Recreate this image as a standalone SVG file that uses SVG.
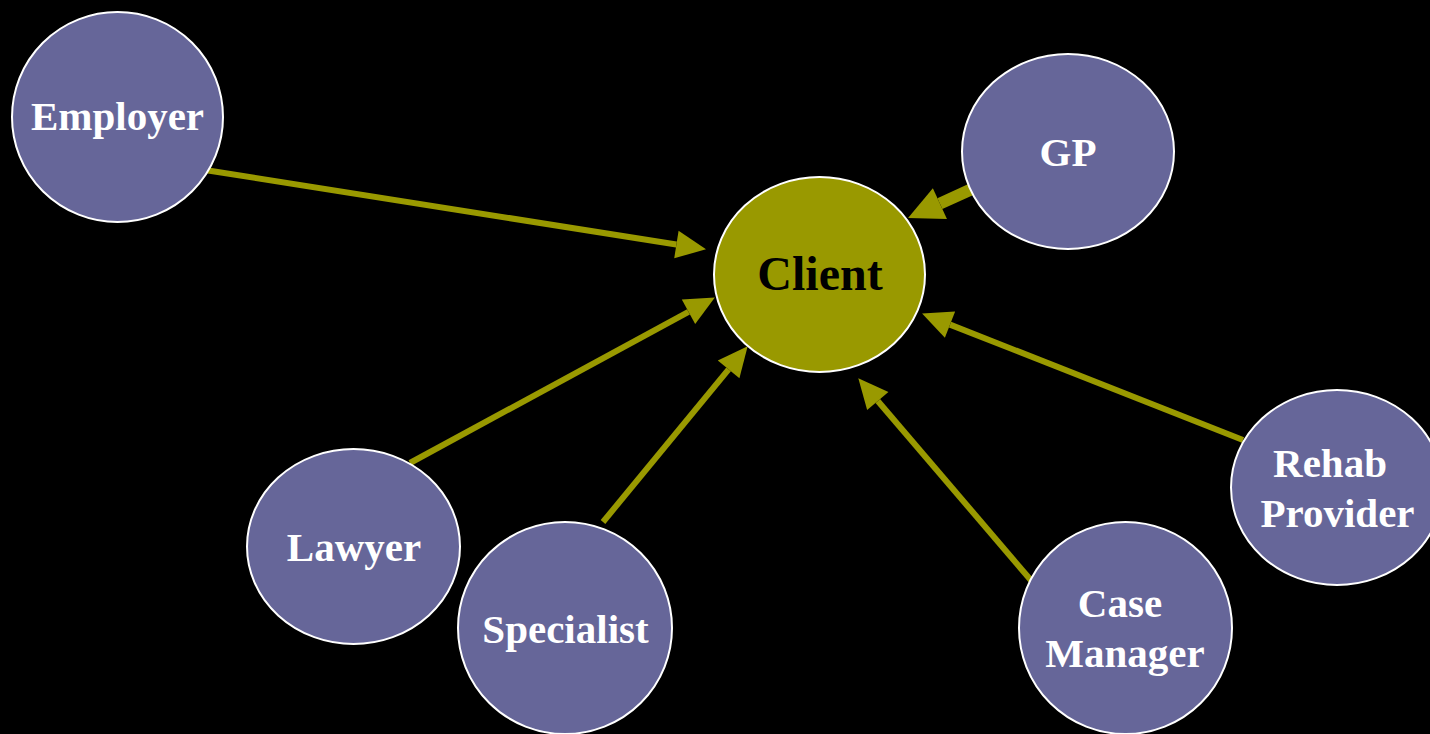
<svg xmlns="http://www.w3.org/2000/svg" width="1430" height="734" viewBox="0 0 1430 734">
<style>
.node{fill:#666699;stroke:#ffffff;stroke-width:2}
.client{fill:#999900;stroke:#ffffff;stroke-width:2}
.lbl{font-family:"Liberation Serif",serif;font-weight:bold;font-size:41px;fill:#ffffff;text-anchor:middle}
.clbl{font-family:"Liberation Serif",serif;font-weight:bold;font-size:48px;fill:#000000;text-anchor:middle}
.edge{stroke:#999900;stroke-width:6;fill:none;marker-end:url(#ah)}
.edge2{stroke:#999900;stroke-width:12;fill:none;marker-end:url(#ah2)}
</style>
<defs>
<marker id="ah" markerUnits="userSpaceOnUse" markerWidth="30" markerHeight="28" refX="0" refY="14" orient="auto" overflow="visible">
<path d="M0,0 L30,14 L0,28 z" fill="#999900"/>
</marker>
<marker id="ah2" markerUnits="userSpaceOnUse" markerWidth="35" markerHeight="34" refX="0" refY="17" orient="auto" overflow="visible">
<path d="M0,0 L35,17 L0,34 z" fill="#999900"/>
</marker>
</defs>
<rect width="1430" height="734" fill="#000000"/>
<g id="connectors">
<path class="edge" d="M205,170 L676.4,244.5"/>
<path class="edge" d="M410,463 L688.5,311.8"/>
<path class="edge" d="M603,522 L728.6,369.4"/>
<path class="edge" d="M1035,585 L877.8,401"/>
<path class="edge" d="M1243,440 L950,324.6"/>
<path class="edge2" d="M972,189 L939.9,203.6"/>
</g>
<g id="employer"><ellipse class="node" cx="117.5" cy="117" rx="105.5" ry="105"/><text class="lbl" x="117.5" y="130">Employer</text></g>
<g id="gp"><ellipse class="node" cx="1068" cy="151.5" rx="106" ry="97.5"/><text class="lbl" x="1068" y="166">GP</text></g>
<g id="client"><ellipse class="client" cx="819.5" cy="274.5" rx="105.5" ry="97.5"/><text class="clbl" x="820" y="290">Client</text></g>
<g id="lawyer"><ellipse class="node" cx="353.5" cy="546.5" rx="106.5" ry="97.5"/><text class="lbl" x="354" y="561">Lawyer</text></g>
<g id="specialist"><ellipse class="node" cx="565" cy="628" rx="107" ry="106"/><text class="lbl" x="565.5" y="643">Specialist</text></g>
<g id="case-manager"><ellipse class="node" cx="1125.5" cy="628" rx="106.5" ry="106"/><text class="lbl" x="1120" y="617">Case</text><text class="lbl" x="1125" y="667">Manager</text></g>
<g id="rehab-provider"><ellipse class="node" cx="1337" cy="487.5" rx="106" ry="97.5"/><text class="lbl" x="1330" y="477">Rehab</text><text class="lbl" x="1337.5" y="527">Provider</text></g>
</svg>
